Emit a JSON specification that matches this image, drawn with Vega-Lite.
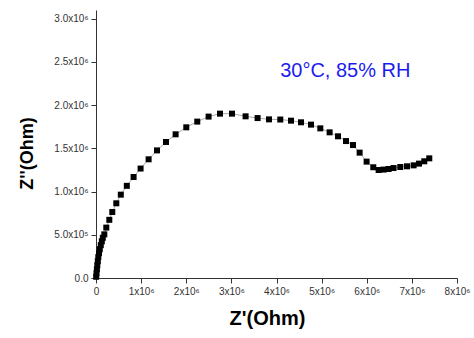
{
  "$schema": "https://vega.github.io/schema/vega-lite/v6.json",
  "width": 361,
  "height": 268,
  "autosize": "none",
  "padding": {"left": 96, "top": 10, "right": 17, "bottom": 60},
  "config": {
    "view": {"stroke": null},
    "font": "Liberation Sans"
  },
  "layer": [
    {
      "data": {"name": "pts"},
      "mark": {"type": "line", "color": "#aaaaaa", "strokeWidth": 1},
      "encoding": {
        "x": {
          "field": "x",
          "type": "quantitative",
          "scale": {"domain": [0, 8000000], "nice": false, "zero": false},
          "axis": {
            "title": "Z'(Ohm)",
            "titleFont": "Liberation Sans",
            "titleFontSize": 20,
            "titleFontWeight": "bold",
            "titleColor": "#000",
            "titlePadding": 12,
            "titleX": 171,
            "grid": false,
            "values": [0, 500000, 1000000, 1500000, 2000000, 2500000, 3000000, 3500000, 4000000, 4500000, 5000000, 5500000, 6000000, 6500000, 7000000, 7500000, 8000000],
            "labelExpr": "datum.value == 0 ? '0' : (datum.value % 1000000 == 0 ? (datum.value / 1000000) + 'x10⁶' : '')",
            "labelOverlap": false,
            "labelFlush": false,
            "labelBound": false,
            "labelFontSize": 10,
            "labelColor": "#333",
            "labelPadding": 3,
            "tickSize": {"condition": {"test": "datum.value % 1000000 == 0", "value": 5}, "value": 3},
            "tickColor": "#333",
            "domainColor": "#333",
            "tickWidth": 1,
            "domainWidth": 1
          }
        },
        "y": {
          "field": "y",
          "type": "quantitative",
          "scale": {"domain": [0, 3100000], "nice": false, "zero": false},
          "axis": {
            "title": "Z''(Ohm)",
            "titleFont": "Liberation Sans",
            "titleFontSize": 18,
            "titleFontWeight": "bold",
            "titleColor": "#000",
            "titlePadding": 17,
            "titleY": 143,
            "grid": false,
            "values": [0, 250000, 500000, 750000, 1000000, 1250000, 1500000, 1750000, 2000000, 2250000, 2500000, 2750000, 3000000],
            "labelExpr": "datum.value == 0 ? '0.0' : (datum.value % 500000 == 0 ? (datum.value >= 1000000 ? format(datum.value / 1000000, '.1f') + 'x10⁶' : format(datum.value / 100000, '.1f') + 'x10⁵') : '')",
            "labelOverlap": false,
            "labelFlush": false,
            "labelBound": false,
            "labelFontSize": 10,
            "labelColor": "#333",
            "labelPadding": 3,
            "tickSize": {"condition": {"test": "datum.value % 500000 == 0", "value": 5}, "value": 3},
            "tickColor": "#333",
            "domainColor": "#333",
            "tickWidth": 1,
            "domainWidth": 1
          }
        }
      }
    },
    {
      "data": {"name": "pts"},
      "mark": {"type": "point", "shape": "square", "filled": true, "color": "#000", "size": 36, "opacity": 1},
      "encoding": {
        "x": {"field": "x", "type": "quantitative"},
        "y": {"field": "y", "type": "quantitative"}
      }
    },
    {
      "data": {"values": [{"label": "30°C, 85% RH", "x": 5525000, "y": 2390000}]},
      "mark": {"type": "text", "fontSize": 20, "color": "#1c1cf0", "align": "center", "baseline": "middle", "font": "Liberation Sans"},
      "encoding": {
        "x": {"field": "x", "type": "quantitative"},
        "y": {"field": "y", "type": "quantitative"},
        "text": {"field": "label"}
      }
    }
  ],
  "datasets": {
    "pts": [
      {"x": 4400, "y": 13900},
      {"x": 11000, "y": 54000},
      {"x": 20000, "y": 101000},
      {"x": 29000, "y": 147000},
      {"x": 40000, "y": 194000},
      {"x": 51000, "y": 241000},
      {"x": 66000, "y": 287000},
      {"x": 84000, "y": 333000},
      {"x": 106000, "y": 380000},
      {"x": 129000, "y": 424000},
      {"x": 151000, "y": 465000},
      {"x": 184000, "y": 505000},
      {"x": 228000, "y": 583000},
      {"x": 295000, "y": 673000},
      {"x": 361000, "y": 763000},
      {"x": 450000, "y": 864000},
      {"x": 550000, "y": 964000},
      {"x": 683000, "y": 1066000},
      {"x": 833000, "y": 1168000},
      {"x": 988000, "y": 1266000},
      {"x": 1166000, "y": 1373000},
      {"x": 1352000, "y": 1476000},
      {"x": 1551000, "y": 1573000},
      {"x": 1764000, "y": 1662000},
      {"x": 2001000, "y": 1743000},
      {"x": 2244000, "y": 1809000},
      {"x": 2495000, "y": 1867000},
      {"x": 2748000, "y": 1901000},
      {"x": 3014000, "y": 1901000},
      {"x": 3315000, "y": 1870000},
      {"x": 3581000, "y": 1850000},
      {"x": 3834000, "y": 1835000},
      {"x": 4084000, "y": 1833000},
      {"x": 4321000, "y": 1820000},
      {"x": 4543000, "y": 1801000},
      {"x": 4765000, "y": 1774000},
      {"x": 4971000, "y": 1731000},
      {"x": 5177000, "y": 1685000},
      {"x": 5363000, "y": 1639000},
      {"x": 5540000, "y": 1584000},
      {"x": 5695000, "y": 1538000},
      {"x": 5842000, "y": 1450000},
      {"x": 5997000, "y": 1346000},
      {"x": 6145000, "y": 1281000},
      {"x": 6263000, "y": 1249000},
      {"x": 6373000, "y": 1254000},
      {"x": 6484000, "y": 1261000},
      {"x": 6595000, "y": 1272000},
      {"x": 6743000, "y": 1284000},
      {"x": 6892000, "y": 1292000},
      {"x": 7038000, "y": 1303000},
      {"x": 7158000, "y": 1323000},
      {"x": 7275000, "y": 1350000},
      {"x": 7386000, "y": 1384000}
    ]
  }
}
